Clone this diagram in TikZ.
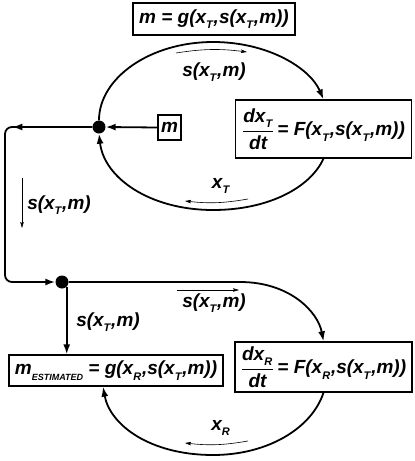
\documentclass[tikz,border=0pt]{standalone}
\usepackage{amsmath}
\usepackage{fontspec}
\setmainfont{Liberation Sans}
\usetikzlibrary{arrows.meta,decorations.markings,calc}
\newcommand{\sbs}[1]{\raisebox{-0.55ex}{\fontsize{11}{11}\selectfont #1}\kern0.8pt}
\newcommand{\sbsmall}[1]{\raisebox{-0.55ex}{\fontsize{9}{9}\selectfont #1}}
\newcommand{\fr}[2]{$\genfrac{}{}{1.1pt}{0}{\hbox{#1}}{\hbox{#2}}$}
\newcommand{\lbl}{\bfseries\itshape\fontsize{19}{21}\selectfont}
\begin{document}
\begin{tikzpicture}[x=1pt,y=-1pt,
  every node/.style={font=\lbl},
  box/.style={draw,line width=1.3pt,inner sep=2pt,fill=white},
  flow/.style={line width=1.8pt},
  tip/.style={-{Latex[length=10pt,width=7pt]}},
  hint/.style={line width=0.6pt,-{Stealth[length=6pt,width=3.5pt,inset=1pt]}},
  junction/.style={circle,fill,inner sep=0pt,minimum size=13pt}]
\useasboundingbox (0,0) rectangle (415,461);
% nodes
\node[box,minimum width=162pt,minimum height=32pt] (gT) at (214,19) {m = g(x\sbs{T},s(x\sbs{T},m))};
\node[box,minimum width=176pt,minimum height=58pt,inner sep=1pt] (FT) at (323.5,129) {\fr{dx\sbs{T}}{dt}\,= F(x\sbs{T},s(x\sbs{T},m))};
\node[box,minimum width=23pt,minimum height=25pt] (mb) at (169.5,127.5) {m};
\node[junction] (j1) at (99,127) {};
\node[junction] (j2) at (62,282) {};
\node[box,minimum width=177pt,minimum height=50pt,inner sep=1pt] (FR) at (323.5,367) {\fr{dx\sbs{R}}{dt}\,= F(x\sbs{R},s(x\sbs{T},m))};
\node[box,minimum width=214pt,minimum height=31pt,inner sep=1pt] (gR) at (116,370.5) {m\sbsmall{ESTIMATED} = g(x\sbs{R},s(x\sbs{T},m))};
% labels
\node (l1) at (214,72) {s(x\sbs{T},m)};
\node (l2) at (221,186) {x\sbs{T}};
\node (l3) at (59,205) {s(x\sbs{T},m)};
\node (l4) at (108,322) {s(x\sbs{T},m)};
\node (l5) at (214,303) {s(x\sbs{T},m)};
\node (l6) at (221,428) {x\sbs{R}};
% coordinates
\coordinate (top1) at (213,42);
\coordinate (bot1) at (213,210);
\coordinate (c1) at (5,127);
\coordinate (c2) at (5,282);
\coordinate (r2) at (240,282);
\coordinate (bot2) at (213,455);
\coordinate (gRin) at ($(gR.south)+(-13,0)$);
% connectors
\draw[flow,tip] (j1.north) .. controls (99,78) and (150,42) .. (top1) .. controls (268,42) and (310,68) .. (FT.north);
\draw[flow,tip] (FT.south) .. controls (310,188) and (268,210) .. (bot1) .. controls (150,210) and (104,178) .. (j1.south);
\draw[flow,tip] (mb.west) -- (j1.east);
\draw[flow,tip,rounded corners=7pt,
  postaction={decorate},
  decoration={markings,mark=at position 80pt with {\arrow{Latex[length=10pt,width=7pt]}}}]
  (j1.west) -- (c1) -- (c2) -- (j2.west);
\draw[flow,tip] (j2.east) -- (r2) .. controls (290,282) and (318,312) .. (FR.north);
\draw[flow,tip] (j2.south east) -- (j2.south east |- gR.north);
\draw[flow,tip] (FR.south) .. controls (312,428) and (268,455) .. (bot2) .. controls (150,455) and (110,425) .. (gRin);
% hint arrows
\coordinate (h1a) at (176,53); \coordinate (h1b) at (247,52);
\coordinate (h2a) at (248,199); \coordinate (h2b) at (185,201);
\coordinate (h3a) at (22,178); \coordinate (h3b) at (22,228);
\coordinate (h4a) at (177,290); \coordinate (h4b) at (239,290);
\coordinate (h5a) at (248,441); \coordinate (h5b) at (185,443);
\draw[hint] (h1a) to[bend left=8] (h1b);
\draw[hint] (h2a) to[bend left=8] (h2b);
\draw[hint] (h3a) -- (h3b);
\draw[hint] (h4a) -- (h4b);
\draw[hint] (h5a) to[bend left=8] (h5b);
\end{tikzpicture}
\end{document}
